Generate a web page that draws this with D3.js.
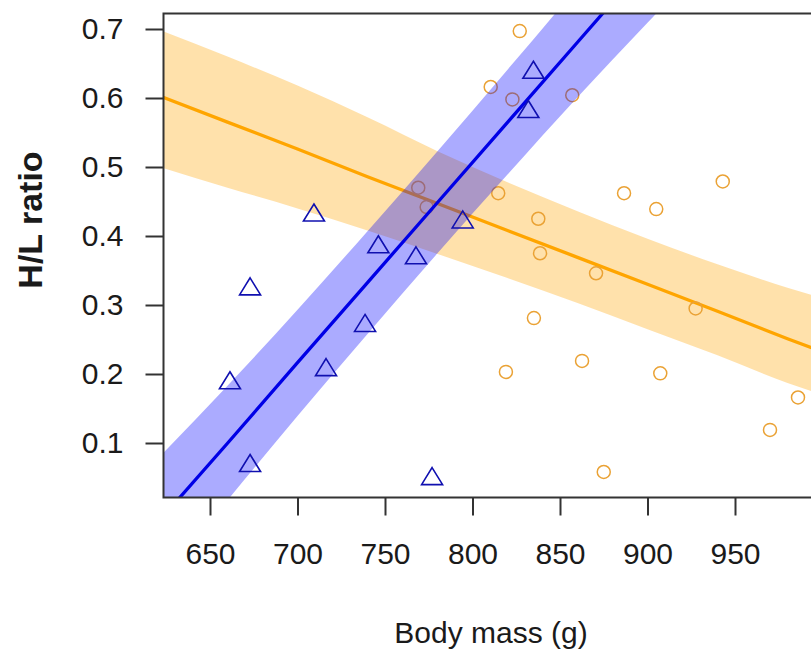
<!DOCTYPE html>
<html>
<head>
<meta charset="utf-8">
<script src="https://cdn.jsdelivr.net/npm/d3@7"></script>
<style>
  html, body { margin: 0; padding: 0; background: #fff; }
  svg { display: block; }
  text { font-family: "Liberation Sans", Arial, sans-serif; fill: #1a1a1a; }
</style>
</head>
<body>
<svg id="chart" width="811" height="651"></svg>
<script>
// ---- data ----
const xTicks = [650, 700, 750, 800, 850, 900, 950];
const yTicks = [0.1, 0.2, 0.3, 0.4, 0.5, 0.6, 0.7];

// orange group (circles)
const orangeMass = [827, 810.4, 822.8, 857, 769, 773.8, 814.7, 886.6, 905, 943, 837.6, 838.6, 870.6, 835.1, 927.5, 862.6, 819.1, 907.3, 986, 970, 875];
const orangeRatio = [0.697, 0.616, 0.598, 0.604, 0.470, 0.442, 0.462, 0.462, 0.439, 0.479, 0.425, 0.375, 0.346, 0.281, 0.295, 0.219, 0.203, 0.201, 0.166, 0.119, 0.058];

// blue group (triangles)
const blueMass = [834.8, 831.9, 709.4, 794.4, 746.2, 767.7, 738.6, 672.9, 661.4, 716.3, 672.9, 776.9];
const blueRatio = [0.641, 0.584, 0.434, 0.424, 0.388, 0.372, 0.274, 0.327, 0.191, 0.210, 0.071, 0.052];

// fitted lines and confidence bands
const orangeFitX = [620, 660, 700, 740, 780, 820, 860, 900, 940, 980, 1000];
const orangeFit  = [0.604, 0.565, 0.526, 0.486, 0.447, 0.408, 0.369, 0.330, 0.291, 0.251, 0.232];
const orangeLo   = [0.501, 0.470, 0.440, 0.408, 0.374, 0.339, 0.303, 0.265, 0.227, 0.187, 0.170];
const orangeHi   = [0.700, 0.660, 0.618, 0.572, 0.523, 0.478, 0.436, 0.396, 0.359, 0.325, 0.310];

const blueFitX = [620, 660, 700, 740, 780, 820, 860, 900, 940];
const blueFit  = [-0.0157, 0.0996, 0.2164, 0.3325, 0.4486, 0.5647, 0.6808, 0.7969, 0.9129];
const blueLo   = [-0.108, 0.017, 0.139, 0.258, 0.375, 0.489, 0.601, 0.709, 0.817];
const blueHi   = [0.077, 0.183, 0.293, 0.407, 0.523, 0.641, 0.761, 0.885, 1.009];

// ---- layout ----
const plotL = 163.5, plotT = 13.5, plotB = 497.5, plotR = 840;
const svg = d3.select("#chart");

const x = d3.scaleLinear().domain([650, 950]).range([210, 735]);
const y = d3.scaleLinear().domain([0.1, 0.7]).range([443, 29]);

svg.append("defs").append("clipPath").attr("id", "clip")
  .append("rect").attr("x", plotL).attr("y", plotT)
  .attr("width", plotR - plotL).attr("height", plotB - plotT);

const g = svg.append("g").attr("clip-path", "url(#clip)");

const orangeBand = orangeFitX.map((v, i) => ({x: v, lo: orangeLo[i], hi: orangeHi[i], f: orangeFit[i]}));
const blueBand = blueFitX.map((v, i) => ({x: v, lo: blueLo[i], hi: blueHi[i], f: blueFit[i]}));

const area = d3.area().curve(d3.curveMonotoneX).x(d => x(d.x)).y0(d => y(d.lo)).y1(d => y(d.hi));
const line = d3.line().x(d => x(d.x)).y(d => y(d.f));

// orange band, line, points
g.append("path").datum(orangeBand).attr("d", area)
  .attr("fill", "#FFA500").attr("fill-opacity", 0.33);
g.append("path").datum(orangeBand).attr("d", line)
  .attr("fill", "none").attr("stroke", "#FFA500").attr("stroke-width", 3.3);
g.selectAll("circle.o").data(orangeMass.map((m, i) => [m, orangeRatio[i]]))
  .enter().append("circle").attr("class", "o")
  .attr("cx", d => x(d[0])).attr("cy", d => y(d[1])).attr("r", 6.5)
  .attr("fill", "none").attr("stroke", "#EAA235").attr("stroke-width", 1.5);

// blue band, line, points
g.append("path").datum(blueBand).attr("d", area)
  .attr("fill", "#0000FF").attr("fill-opacity", 0.33);
g.append("path").datum(blueBand).attr("d", line)
  .attr("fill", "none").attr("stroke", "#0000E6").attr("stroke-width", 3.3);

g.selectAll("path.t").data(blueMass.map((m, i) => [m, blueRatio[i]]))
  .enter().append("path").attr("class", "t")
  .attr("d", d => {
    const cx = x(d[0]), cy = y(d[1]);
    const hw = 10.5, hh = 8.5;
    return `M${cx},${cy - hh}L${cx + hw},${cy + hh}L${cx - hw},${cy + hh}Z`;
  })
  .attr("fill", "none").attr("stroke", "#1010B0").attr("stroke-width", 1.6);

// ---- axes ----
const axisColor = "#333";
const xAxis = svg.append("g").attr("transform", `translate(0,${plotB})`)
  .call(d3.axisBottom(x).tickValues(xTicks).tickSize(18).tickPadding(27).tickFormat(d3.format("d")));
xAxis.select(".domain").remove();
xAxis.selectAll(".tick line").attr("stroke", axisColor).attr("stroke-width", 2);
xAxis.selectAll(".tick text").attr("font-size", 30).attr("fill", "#1a1a1a")
  .attr("font-family", "Liberation Sans, Arial, sans-serif");

const yAxis = svg.append("g").attr("transform", `translate(${plotL},0)`)
  .call(d3.axisLeft(y).tickValues(yTicks).tickSize(18).tickPadding(22).tickFormat(d3.format(".1f")));
yAxis.select(".domain").remove();
yAxis.selectAll(".tick line").attr("stroke", axisColor).attr("stroke-width", 2);
yAxis.selectAll(".tick text").attr("font-size", 30).attr("fill", "#1a1a1a")
  .attr("font-family", "Liberation Sans, Arial, sans-serif");

// box (left, top, bottom; right side out of frame)
svg.append("path")
  .attr("d", `M${plotR},${plotT}H${plotL}V${plotB}H${plotR}`)
  .attr("fill", "none").attr("stroke", axisColor).attr("stroke-width", 2);

// axis titles
svg.append("text").attr("x", 491).attr("y", 643).attr("text-anchor", "middle")
  .attr("font-size", 30).text("Body mass (g)");
svg.append("text").attr("transform", "translate(42,220) rotate(-90)")
  .attr("text-anchor", "middle").attr("font-size", 34).attr("font-weight", "bold")
  .text("H/L ratio");
</script>
</body>
</html>
